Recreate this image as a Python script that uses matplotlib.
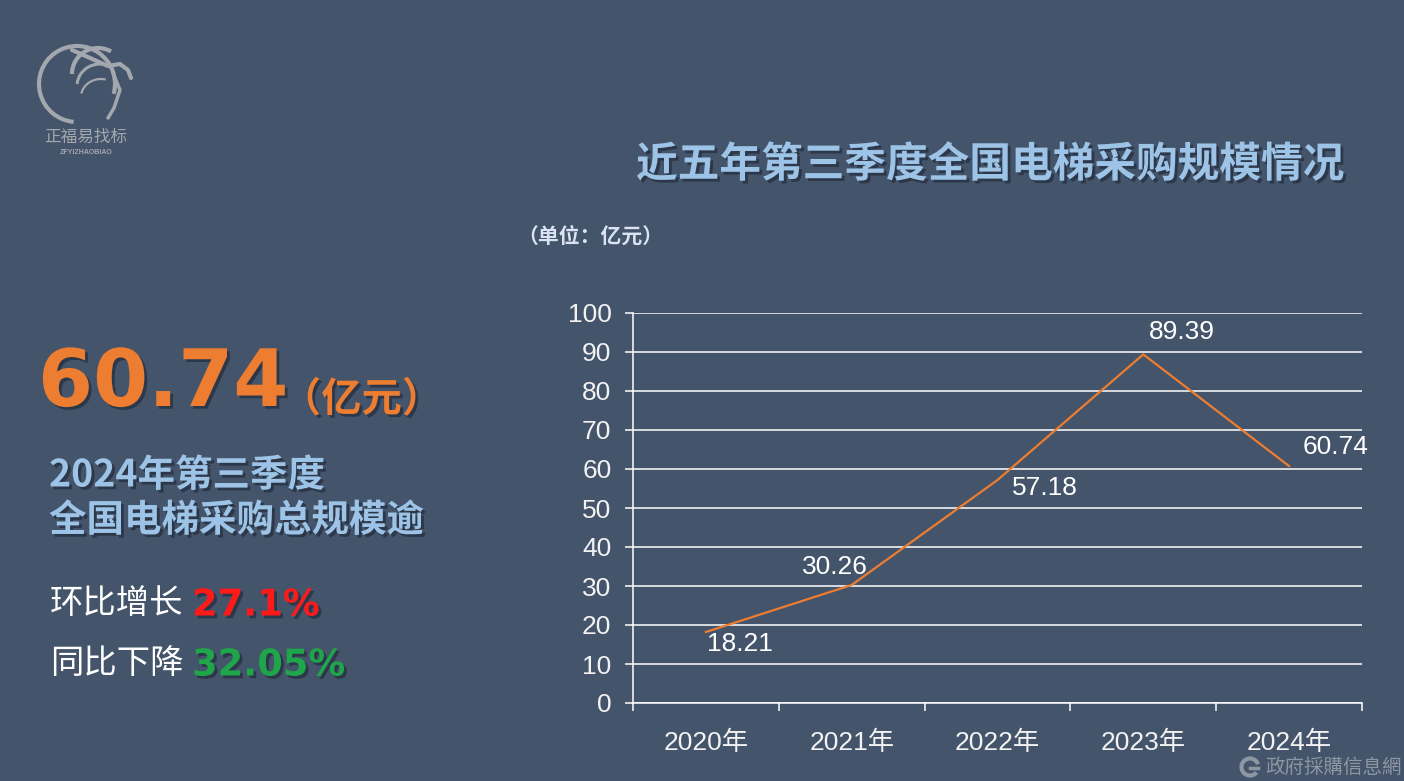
import matplotlib.pyplot as plt
import matplotlib.patheffects as pe
from matplotlib.patches import Arc

# === 資料 === #
years = ["2020年", "2021年", "2022年", "2023年", "2024年"]
values = [18.21, 30.26, 57.18, 89.39, 60.74]
label_offsets = [(34, -12), (-17, 18), (47, -8), (39, 22), (46, 19)]
y_ticks = list(range(0, 101, 10))

title = "近五年第三季度全国电梯采购规模情况"
unit = "（单位：亿元）"
big_value = "60.74"
big_unit = "（亿元）"
sub_lines = ["2024年第三季度", "全国电梯采购总规模逾"]
stats = [("环比增长", "27.1%", "#ff1a1a"), ("同比下降", "32.05%", "#1fa64a")]

BG = "#44546a"
ORANGE = "#ed7d31"
LIGHT = "#9dc3e6"
W, H = 1404, 781

cjk = ["Noto Sans CJK SC", "DejaVu Sans"]
num_cjk = ["Liberation Sans", "Noto Sans CJK SC"]
heavy = ["DejaVu Sans", "Noto Sans CJK SC"]
narrow = ["Liberation Sans Narrow", "Liberation Sans", "Noto Sans CJK SC"]

fig = plt.figure(figsize=(W / 100, H / 100), dpi=100, facecolor=BG)


def px(x, y):
    return x / W, 1 - y / H


shadow = [pe.SimplePatchShadow(offset=(2, -2), shadow_rgbFace="#1c2533", alpha=0.6), pe.Normal()]

# === 折線圖 === #
ax = fig.add_axes([633 / W, 1 - 703 / H, (1362 - 633) / W, (703 - 313) / H])
ax.set_facecolor(BG)
x = list(range(len(years)))
ax.plot(x, values, color=ORANGE, lw=1.6, zorder=3)
for xi, v, off in zip(x, values, label_offsets):
    ax.annotate(f"{v:.2f}", (xi, v), xytext=off, textcoords="offset pixels",
                ha="center", va="center", color="white", fontsize=19,
                family=num_cjk)

ax.set_xlim(-0.5, len(years) - 0.5)
ax.set_ylim(0, 100)
ax.set_yticks(y_ticks)
ax.set_yticklabels([str(t) for t in y_ticks], family=narrow, fontsize=19, color="#f2f2f2")
ax.set_xticks(x)
ax.set_xticklabels(years, family=narrow, fontsize=19, color="#f2f2f2")
ax.set_xticks([i - 0.5 for i in range(len(years) + 1)], minor=True)
ax.tick_params(axis="x", which="major", length=0, pad=20)
ax.tick_params(axis="x", which="minor", length=5.5, width=1.1, color="white", direction="out")
ax.tick_params(axis="y", length=5.5, width=1.1, color="white", direction="out", pad=10)
ax.grid(axis="y", color="white", lw=1.1)
ax.set_axisbelow(True)
for s in ["top", "right"]:
    ax.spines[s].set_visible(False)
for s in ["left", "bottom"]:
    ax.spines[s].set_color("white")
    ax.spines[s].set_linewidth(1.1)

# === 標題 / 單位 === #
fig.text(*px(636, 165), title, family=cjk, fontsize=30, weight="bold",
         color=LIGHT, va="center", ha="left", path_effects=shadow)
fig.text(*px(517, 236), unit, family=cjk, fontsize=15, weight="bold",
         color="#dae3f3", va="center", ha="left")

# === 左側說明 === #
fig.text(*px(38, 384), big_value, family=heavy, fontsize=57, weight="bold",
         color=ORANGE, va="center", ha="left", path_effects=shadow)
fig.text(*px(281, 400), big_unit, family=cjk, fontsize=29, weight="bold",
         color=ORANGE, va="center", ha="left", path_effects=shadow)
for i, line in enumerate(sub_lines):
    fig.text(*px(49, 475 + 45 * i), line, family=cjk, fontsize=27, weight="bold",
             color=LIGHT, va="center", ha="left", path_effects=shadow)
for i, (name, pct, col) in enumerate(stats):
    yy = 604 + 60 * i
    fig.text(*px(50, yy), name, family=cjk, fontsize=24, color="white",
             va="center", ha="left")
    fig.text(*px(192, yy + 1), pct, family=heavy, fontsize=26.5, weight="bold",
             color=col, va="center", ha="left", path_effects=shadow)

# === Logo === #
logo = fig.add_axes([0, 0, 1, 1], facecolor="none")
logo.set_xlim(0, W)
logo.set_ylim(H, 0)
logo.axis("off")
gray = "#a3a7ae"
logo.add_patch(Arc((77, 84), 76, 76, theta1=95, theta2=375, color=gray, lw=3))
logo.add_patch(Arc((98, 74), 52, 52, theta1=180, theta2=300, color=gray, lw=3))
logo.add_patch(Arc((100, 86), 46, 44, theta1=185, theta2=295, color=gray, lw=2.2))
logo.add_patch(Arc((101, 97), 40, 36, theta1=190, theta2=285, color=gray, lw=1.6))
logo.plot([72, 90, 108, 120, 128, 131], [50, 58, 66, 64, 70, 78], color=gray, lw=3,
          solid_capstyle="round")
logo.plot([113, 120, 114, 108], [73, 90, 108, 118], color=gray, lw=2.5,
          solid_capstyle="round")
logo.text(86, 137, "正福易找标", family=cjk, fontsize=12, color=gray, ha="center", va="center")
logo.text(86, 153, "ZFYIZHAOBIAO", family=num_cjk, fontsize=5, weight="bold", color=gray,
          ha="center", va="center")

# === 浮水印 === #
wm = "#8d96a3"
logo.add_patch(Arc((1250, 767), 17, 17, theta1=40, theta2=340, color=wm, lw=3))
logo.plot([1250, 1258], [768, 768], color=wm, lw=2.5)
logo.text(1265, 767, "政府採購信息網", family=["Noto Sans CJK TC", "DejaVu Sans"],
          fontsize=14, color=wm, ha="left", va="center")

fig.savefig("out.png", dpi=100, facecolor=BG)
